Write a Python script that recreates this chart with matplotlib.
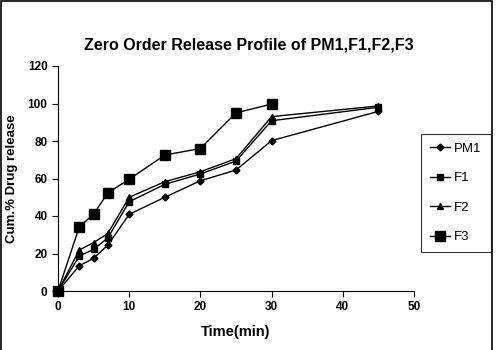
import matplotlib
matplotlib.use("Agg")
import matplotlib.pyplot as plt
from matplotlib.patches import Rectangle

plt.rcParams['font.family'] = ['Liberation Sans', 'DejaVu Sans']

time = [0, 3, 5, 7, 10, 15, 20, 25, 30, 45]
time_f3 = [0, 3, 5, 7, 10, 15, 20, 25, 30]
pm1 = [0, 13.5, 17.4, 24.5, 40.9, 50.0, 58.8, 64.5, 80.2, 95.8]
f1 = [0, 18.7, 22.2, 28.3, 47.6, 56.9, 62.4, 69.3, 90.8, 98.0]
f2 = [0, 21.9, 25.8, 30.7, 50.0, 58.3, 63.6, 70.6, 93.0, 98.7]
f3 = [0, 34.3, 40.9, 52.4, 59.6, 72.5, 76.0, 95.0, 99.7]

fig = plt.figure(figsize=(4.98, 3.5), dpi=100)
ax = fig.add_axes([58/498, 1-291/350, (414-58)/498, (291-66)/350])

kw = dict(color='black', linewidth=1.0, clip_on=False)
ax.plot(time, pm1, marker='D', markersize=3.5, label='PM1', **kw)
ax.plot(time, f1, marker='s', markersize=4, label='F1', **kw)
ax.plot(time, f2, marker='^', markersize=5, label='F2', **kw)
ax.plot(time_f3, f3, marker='s', markersize=7, label='F3', **kw)

ax.set_xlim(0, 50)
ax.set_ylim(0, 120)
ax.set_xticks(range(0, 51, 10))
ax.set_yticks(range(0, 121, 20))
ax.spines['top'].set_visible(False)
ax.spines['right'].set_visible(False)
ax.tick_params(direction='out', length=4, labelsize=8.5)
for lbl in ax.get_xticklabels() + ax.get_yticklabels():
    lbl.set_fontweight('bold')

ax.set_xlabel('Time(min)', fontsize=10.5, fontweight='bold')
ax.xaxis.set_label_coords(0.5, -(325 - 291) / 225)
ax.set_ylabel('Cum.% Drug release', fontsize=9.5, fontweight='bold')
ax.yaxis.set_label_coords((18 - 58) / 356, 0.5)
fig.text(0.5, 1-45/350, 'Zero Order Release Profile of PM1,F1,F2,F3',
         ha='center', va='center', fontsize=11.5, fontweight='bold')

leg = fig.legend(loc='center', bbox_to_anchor=(456/498, 1-193/350),
                 frameon=True, fancybox=False, edgecolor='black',
                 fontsize=9.5, handlelength=1.5, handletextpad=0.3,
                 labelspacing=1.3, borderpad=0.7, borderaxespad=0)
leg.get_frame().set_linewidth(0.8)

fig.patches.append(Rectangle((1/498, -0.02), 491/498, 1.02 - 1/350, transform=fig.transFigure,
                             fill=False, edgecolor='black', linewidth=1.2))

fig.savefig('out.png', dpi=100)
